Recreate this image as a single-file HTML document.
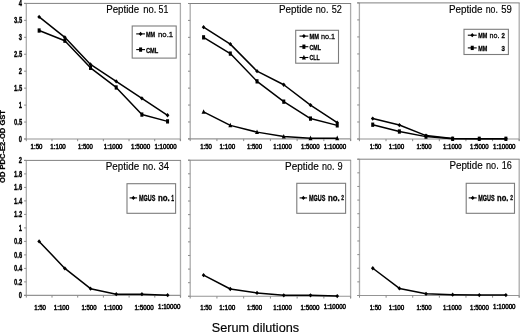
<!DOCTYPE html>
<html><head><meta charset="utf-8"><title>Chart</title>
<style>
html,body{margin:0;padding:0;background:#fff;}
body{width:520px;height:333px;overflow:hidden;}
svg{display:block;}
text{font-family:"Liberation Sans",sans-serif;fill:#000;}
.yl{font-size:8.4px;font-weight:bold;stroke:#000;stroke-width:0.35px;}
.xl{font-size:7.3px;stroke:#000;stroke-width:0.5px;}
.tt{font-size:10.2px;stroke:#000;stroke-width:0.15px;}
.st{font-size:12.4px;stroke:#000;stroke-width:0.15px;}
.yt{font-size:7px;font-weight:bold;stroke:#000;stroke-width:0.25px;}
.lb{font-size:8px;font-weight:bold;stroke:#000;stroke-width:0.3px;}
.lr{font-size:8px;stroke:#000;stroke-width:0.26px;}
.lm{font-size:8.6px;font-weight:bold;stroke:#000;stroke-width:0.3px;}
.ls{font-size:6.8px;font-weight:bold;stroke:#000;stroke-width:0.3px;}
</style></head><body>
<svg width="520" height="333" viewBox="0 0 520 333">
<g style="mix-blend-mode:multiply">
<rect width="520" height="333" fill="#fff"/>
<path d="M26.3 139.0V3.4M180.4 3.4V141.0" fill="none" stroke="#acacac" stroke-width="1.3"/>
<path d="M24.1 139.0H180.4" fill="none" stroke="#949494" stroke-width="1.1"/>
<path d="M24.1 3.4H180.9" fill="none" stroke="#808080" stroke-width="1"/>
<line x1="24.1" y1="139.00" x2="26.3" y2="139.00" stroke="#8a8a8a" stroke-width="1"/>
<text x="22.1" y="142.00" class="yl" text-anchor="end" transform="translate(6.85 0) scale(0.69 1)">0</text>
<line x1="24.1" y1="122.05" x2="26.3" y2="122.05" stroke="#8a8a8a" stroke-width="1"/>
<text x="22.1" y="125.05" class="yl" text-anchor="end" transform="translate(6.85 0) scale(0.69 1)">0.5</text>
<line x1="24.1" y1="105.10" x2="26.3" y2="105.10" stroke="#8a8a8a" stroke-width="1"/>
<text x="22.1" y="108.10" class="yl" text-anchor="end" transform="translate(6.85 0) scale(0.69 1)">1</text>
<line x1="24.1" y1="88.15" x2="26.3" y2="88.15" stroke="#8a8a8a" stroke-width="1"/>
<text x="22.1" y="91.15" class="yl" text-anchor="end" transform="translate(6.85 0) scale(0.69 1)">1.5</text>
<line x1="24.1" y1="71.20" x2="26.3" y2="71.20" stroke="#8a8a8a" stroke-width="1"/>
<text x="22.1" y="74.20" class="yl" text-anchor="end" transform="translate(6.85 0) scale(0.69 1)">2</text>
<line x1="24.1" y1="54.25" x2="26.3" y2="54.25" stroke="#8a8a8a" stroke-width="1"/>
<text x="22.1" y="57.25" class="yl" text-anchor="end" transform="translate(6.85 0) scale(0.69 1)">2.5</text>
<line x1="24.1" y1="37.30" x2="26.3" y2="37.30" stroke="#8a8a8a" stroke-width="1"/>
<text x="22.1" y="40.30" class="yl" text-anchor="end" transform="translate(6.85 0) scale(0.69 1)">3</text>
<line x1="24.1" y1="20.35" x2="26.3" y2="20.35" stroke="#8a8a8a" stroke-width="1"/>
<text x="22.1" y="23.35" class="yl" text-anchor="end" transform="translate(6.85 0) scale(0.69 1)">3.5</text>
<line x1="24.1" y1="3.40" x2="26.3" y2="3.40" stroke="#8a8a8a" stroke-width="1"/>
<text x="22.1" y="5.50" class="yl" text-anchor="end" transform="translate(6.85 0) scale(0.69 1)">4</text>
<line x1="26.30" y1="139.0" x2="26.30" y2="141.2" stroke="#8a8a8a" stroke-width="1"/>
<line x1="51.98" y1="139.0" x2="51.98" y2="141.2" stroke="#8a8a8a" stroke-width="1"/>
<line x1="77.67" y1="139.0" x2="77.67" y2="141.2" stroke="#8a8a8a" stroke-width="1"/>
<line x1="103.35" y1="139.0" x2="103.35" y2="141.2" stroke="#8a8a8a" stroke-width="1"/>
<line x1="129.03" y1="139.0" x2="129.03" y2="141.2" stroke="#8a8a8a" stroke-width="1"/>
<line x1="154.72" y1="139.0" x2="154.72" y2="141.2" stroke="#8a8a8a" stroke-width="1"/>
<line x1="180.40" y1="139.0" x2="180.40" y2="141.2" stroke="#8a8a8a" stroke-width="1"/>
<text x="30.6" y="148.5" class="xl" textLength="11.8" lengthAdjust="spacingAndGlyphs">1:50</text>
<text x="50.3" y="148.5" class="xl" textLength="15.5" lengthAdjust="spacingAndGlyphs">1:100</text>
<text x="78.0" y="148.5" class="xl" textLength="14.7" lengthAdjust="spacingAndGlyphs">1:500</text>
<text x="103.8" y="148.5" class="xl" textLength="18.7" lengthAdjust="spacingAndGlyphs">1:1000</text>
<text x="131.1" y="148.5" class="xl" textLength="19.1" lengthAdjust="spacingAndGlyphs">1:5000</text>
<text x="154.5" y="148.5" class="xl" textLength="22.1" lengthAdjust="spacingAndGlyphs">1:10000</text>
<polyline points="39.14,16.96 64.83,37.30 90.51,64.42 116.19,81.37 141.88,98.32 167.56,115.27" fill="none" stroke="#000" stroke-width="1.5" stroke-linejoin="round"/>
<path d="M37.29 16.96L39.14 14.81L40.99 16.96L39.14 19.11Z" fill="#000"/>
<path d="M62.98 37.30L64.83 35.15L66.67 37.30L64.83 39.45Z" fill="#000"/>
<path d="M88.66 64.42L90.51 62.27L92.36 64.42L90.51 66.57Z" fill="#000"/>
<path d="M114.34 81.37L116.19 79.22L118.04 81.37L116.19 83.52Z" fill="#000"/>
<path d="M140.03 98.32L141.88 96.17L143.72 98.32L141.88 100.47Z" fill="#000"/>
<path d="M165.71 115.27L167.56 113.12L169.41 115.27L167.56 117.42Z" fill="#000"/>
<polyline points="39.14,30.52 64.83,40.69 90.51,67.81 116.19,87.47 141.88,114.59 167.56,121.37" fill="none" stroke="#000" stroke-width="1.5" stroke-linejoin="round"/>
<rect x="37.64" y="28.37" width="3.00" height="4.30" fill="#000"/>
<rect x="63.33" y="38.54" width="3.00" height="4.30" fill="#000"/>
<rect x="89.01" y="65.66" width="3.00" height="4.30" fill="#000"/>
<rect x="114.69" y="85.32" width="3.00" height="4.30" fill="#000"/>
<rect x="140.38" y="112.44" width="3.00" height="4.30" fill="#000"/>
<rect x="166.06" y="119.22" width="3.00" height="4.30" fill="#000"/>
<text x="106.2" y="13.0" class="tt" textLength="33.0" lengthAdjust="spacingAndGlyphs">Peptide</text>
<text x="143.3" y="13.0" class="tt" textLength="13.1" lengthAdjust="spacingAndGlyphs">no.</text>
<text x="158.5" y="13.0" class="tt" textLength="9.8" lengthAdjust="spacingAndGlyphs">51</text>
<path d="M190.2 138.9V3.5M350.6 3.5V140.9" fill="none" stroke="#acacac" stroke-width="1.3"/>
<path d="M188.0 138.9H350.6" fill="none" stroke="#949494" stroke-width="1.1"/>
<path d="M188.0 3.5H351.1" fill="none" stroke="#808080" stroke-width="1"/>
<line x1="188.0" y1="138.90" x2="190.2" y2="138.90" stroke="#8a8a8a" stroke-width="1"/>
<line x1="188.0" y1="121.98" x2="190.2" y2="121.98" stroke="#8a8a8a" stroke-width="1"/>
<line x1="188.0" y1="105.05" x2="190.2" y2="105.05" stroke="#8a8a8a" stroke-width="1"/>
<line x1="188.0" y1="88.12" x2="190.2" y2="88.12" stroke="#8a8a8a" stroke-width="1"/>
<line x1="188.0" y1="71.20" x2="190.2" y2="71.20" stroke="#8a8a8a" stroke-width="1"/>
<line x1="188.0" y1="54.28" x2="190.2" y2="54.28" stroke="#8a8a8a" stroke-width="1"/>
<line x1="188.0" y1="37.35" x2="190.2" y2="37.35" stroke="#8a8a8a" stroke-width="1"/>
<line x1="188.0" y1="20.42" x2="190.2" y2="20.42" stroke="#8a8a8a" stroke-width="1"/>
<line x1="188.0" y1="3.50" x2="190.2" y2="3.50" stroke="#8a8a8a" stroke-width="1"/>
<line x1="190.20" y1="138.9" x2="190.20" y2="141.1" stroke="#8a8a8a" stroke-width="1"/>
<line x1="216.93" y1="138.9" x2="216.93" y2="141.1" stroke="#8a8a8a" stroke-width="1"/>
<line x1="243.67" y1="138.9" x2="243.67" y2="141.1" stroke="#8a8a8a" stroke-width="1"/>
<line x1="270.40" y1="138.9" x2="270.40" y2="141.1" stroke="#8a8a8a" stroke-width="1"/>
<line x1="297.13" y1="138.9" x2="297.13" y2="141.1" stroke="#8a8a8a" stroke-width="1"/>
<line x1="323.87" y1="138.9" x2="323.87" y2="141.1" stroke="#8a8a8a" stroke-width="1"/>
<line x1="350.60" y1="138.9" x2="350.60" y2="141.1" stroke="#8a8a8a" stroke-width="1"/>
<text x="200.2" y="148.5" class="xl" textLength="11.6" lengthAdjust="spacingAndGlyphs">1:50</text>
<text x="219.6" y="148.5" class="xl" textLength="15.6" lengthAdjust="spacingAndGlyphs">1:100</text>
<text x="246.9" y="148.5" class="xl" textLength="15.1" lengthAdjust="spacingAndGlyphs">1:500</text>
<text x="273.3" y="148.5" class="xl" textLength="18.5" lengthAdjust="spacingAndGlyphs">1:1000</text>
<text x="301.0" y="148.5" class="xl" textLength="18.5" lengthAdjust="spacingAndGlyphs">1:5000</text>
<text x="323.8" y="148.5" class="xl" textLength="22.5" lengthAdjust="spacingAndGlyphs">1:10000</text>
<polyline points="203.57,27.20 230.30,44.12 257.03,71.20 283.77,84.74 310.50,105.05 337.23,122.65" fill="none" stroke="#000" stroke-width="1.5" stroke-linejoin="round"/>
<path d="M201.72 27.20L203.57 25.05L205.42 27.20L203.57 29.35Z" fill="#000"/>
<path d="M228.45 44.12L230.30 41.97L232.15 44.12L230.30 46.27Z" fill="#000"/>
<path d="M255.18 71.20L257.03 69.05L258.88 71.20L257.03 73.35Z" fill="#000"/>
<path d="M281.92 84.74L283.77 82.59L285.62 84.74L283.77 86.89Z" fill="#000"/>
<path d="M308.65 105.05L310.50 102.90L312.35 105.05L310.50 107.20Z" fill="#000"/>
<path d="M335.38 122.65L337.23 120.50L339.08 122.65L337.23 124.80Z" fill="#000"/>
<polyline points="203.57,37.35 230.30,53.60 257.03,81.36 283.77,101.66 310.50,118.59 337.23,125.36" fill="none" stroke="#000" stroke-width="1.5" stroke-linejoin="round"/>
<rect x="202.07" y="35.20" width="3.00" height="4.30" fill="#000"/>
<rect x="228.80" y="51.45" width="3.00" height="4.30" fill="#000"/>
<rect x="255.53" y="79.20" width="3.00" height="4.30" fill="#000"/>
<rect x="282.27" y="99.51" width="3.00" height="4.30" fill="#000"/>
<rect x="309.00" y="116.44" width="3.00" height="4.30" fill="#000"/>
<rect x="335.73" y="123.21" width="3.00" height="4.30" fill="#000"/>
<polyline points="203.57,111.82 230.30,125.36 257.03,132.13 283.77,136.53 310.50,138.22 337.23,138.22" fill="none" stroke="#000" stroke-width="1.5" stroke-linejoin="round"/>
<path d="M201.57 113.78L203.57 109.18L205.57 113.78Z" fill="#000"/>
<path d="M228.30 127.31L230.30 122.72L232.30 127.31Z" fill="#000"/>
<path d="M255.03 134.09L257.03 129.48L259.03 134.09Z" fill="#000"/>
<path d="M281.77 138.49L283.77 133.89L285.77 138.49Z" fill="#000"/>
<path d="M308.50 140.18L310.50 135.58L312.50 140.18Z" fill="#000"/>
<path d="M335.23 140.18L337.23 135.58L339.23 140.18Z" fill="#000"/>
<text x="279.0" y="13.0" class="tt" textLength="33.5" lengthAdjust="spacingAndGlyphs">Peptide</text>
<text x="315.8" y="13.0" class="tt" textLength="12.7" lengthAdjust="spacingAndGlyphs">no.</text>
<text x="331.8" y="13.0" class="tt" textLength="10.1" lengthAdjust="spacingAndGlyphs">52</text>
<path d="M359.4 139.0V2.9M519.2 2.9V141.0" fill="none" stroke="#acacac" stroke-width="1.3"/>
<path d="M357.2 139.0H519.2" fill="none" stroke="#949494" stroke-width="1.1"/>
<path d="M357.2 2.9H519.7" fill="none" stroke="#808080" stroke-width="1"/>
<line x1="357.2" y1="139.00" x2="359.4" y2="139.00" stroke="#8a8a8a" stroke-width="1"/>
<line x1="357.2" y1="121.99" x2="359.4" y2="121.99" stroke="#8a8a8a" stroke-width="1"/>
<line x1="357.2" y1="104.97" x2="359.4" y2="104.97" stroke="#8a8a8a" stroke-width="1"/>
<line x1="357.2" y1="87.96" x2="359.4" y2="87.96" stroke="#8a8a8a" stroke-width="1"/>
<line x1="357.2" y1="70.95" x2="359.4" y2="70.95" stroke="#8a8a8a" stroke-width="1"/>
<line x1="357.2" y1="53.94" x2="359.4" y2="53.94" stroke="#8a8a8a" stroke-width="1"/>
<line x1="357.2" y1="36.93" x2="359.4" y2="36.93" stroke="#8a8a8a" stroke-width="1"/>
<line x1="357.2" y1="19.91" x2="359.4" y2="19.91" stroke="#8a8a8a" stroke-width="1"/>
<line x1="357.2" y1="2.90" x2="359.4" y2="2.90" stroke="#8a8a8a" stroke-width="1"/>
<line x1="359.40" y1="139.0" x2="359.40" y2="141.2" stroke="#8a8a8a" stroke-width="1"/>
<line x1="386.03" y1="139.0" x2="386.03" y2="141.2" stroke="#8a8a8a" stroke-width="1"/>
<line x1="412.67" y1="139.0" x2="412.67" y2="141.2" stroke="#8a8a8a" stroke-width="1"/>
<line x1="439.30" y1="139.0" x2="439.30" y2="141.2" stroke="#8a8a8a" stroke-width="1"/>
<line x1="465.93" y1="139.0" x2="465.93" y2="141.2" stroke="#8a8a8a" stroke-width="1"/>
<line x1="492.57" y1="139.0" x2="492.57" y2="141.2" stroke="#8a8a8a" stroke-width="1"/>
<line x1="519.20" y1="139.0" x2="519.20" y2="141.2" stroke="#8a8a8a" stroke-width="1"/>
<text x="369.7" y="148.5" class="xl" textLength="11.6" lengthAdjust="spacingAndGlyphs">1:50</text>
<text x="388.7" y="148.5" class="xl" textLength="15.6" lengthAdjust="spacingAndGlyphs">1:100</text>
<text x="416.4" y="148.5" class="xl" textLength="15.1" lengthAdjust="spacingAndGlyphs">1:500</text>
<text x="443.0" y="148.5" class="xl" textLength="18.5" lengthAdjust="spacingAndGlyphs">1:1000</text>
<text x="470.1" y="148.5" class="xl" textLength="18.4" lengthAdjust="spacingAndGlyphs">1:5000</text>
<text x="493.1" y="148.5" class="xl" textLength="22.5" lengthAdjust="spacingAndGlyphs">1:10000</text>
<polyline points="372.72,118.59 399.35,125.05 425.98,135.60 452.62,138.59 479.25,138.80 505.88,138.80" fill="none" stroke="#000" stroke-width="1.5" stroke-linejoin="round"/>
<path d="M370.87 118.59L372.72 116.44L374.57 118.59L372.72 120.74Z" fill="#000"/>
<path d="M397.50 125.05L399.35 122.90L401.20 125.05L399.35 127.20Z" fill="#000"/>
<path d="M424.13 135.60L425.98 133.45L427.83 135.60L425.98 137.75Z" fill="#000"/>
<path d="M450.77 138.59L452.62 136.44L454.47 138.59L452.62 140.74Z" fill="#000"/>
<path d="M477.40 138.80L479.25 136.65L481.10 138.80L479.25 140.95Z" fill="#000"/>
<path d="M504.03 138.80L505.88 136.65L507.73 138.80L505.88 140.95Z" fill="#000"/>
<polyline points="372.72,124.71 399.35,131.51 425.98,136.62 452.62,138.80 479.25,138.80 505.88,138.80" fill="none" stroke="#000" stroke-width="1.5" stroke-linejoin="round"/>
<rect x="371.22" y="122.56" width="3.00" height="4.30" fill="#000"/>
<rect x="397.85" y="129.36" width="3.00" height="4.30" fill="#000"/>
<rect x="424.48" y="134.47" width="3.00" height="4.30" fill="#000"/>
<rect x="451.12" y="136.65" width="3.00" height="4.30" fill="#000"/>
<rect x="477.75" y="136.65" width="3.00" height="4.30" fill="#000"/>
<rect x="504.38" y="136.65" width="3.00" height="4.30" fill="#000"/>
<text x="448.9" y="12.8" class="tt" textLength="33.5" lengthAdjust="spacingAndGlyphs">Peptide</text>
<text x="485.7" y="12.8" class="tt" textLength="12.2" lengthAdjust="spacingAndGlyphs">no.</text>
<text x="501.2" y="12.8" class="tt" textLength="10.6" lengthAdjust="spacingAndGlyphs">59</text>
<path d="M26.3 295.4V160.4M180.5 160.4V297.4" fill="none" stroke="#acacac" stroke-width="1.3"/>
<path d="M24.1 295.4H180.5" fill="none" stroke="#949494" stroke-width="1.1"/>
<path d="M24.1 160.4H181.0" fill="none" stroke="#808080" stroke-width="1"/>
<line x1="24.1" y1="295.40" x2="26.3" y2="295.40" stroke="#8a8a8a" stroke-width="1"/>
<text x="22.1" y="298.40" class="yl" text-anchor="end" transform="translate(6.85 0) scale(0.69 1)">0</text>
<line x1="24.1" y1="281.90" x2="26.3" y2="281.90" stroke="#8a8a8a" stroke-width="1"/>
<text x="22.1" y="284.90" class="yl" text-anchor="end" transform="translate(6.85 0) scale(0.69 1)">0.2</text>
<line x1="24.1" y1="268.40" x2="26.3" y2="268.40" stroke="#8a8a8a" stroke-width="1"/>
<text x="22.1" y="271.40" class="yl" text-anchor="end" transform="translate(6.85 0) scale(0.69 1)">0.4</text>
<line x1="24.1" y1="254.90" x2="26.3" y2="254.90" stroke="#8a8a8a" stroke-width="1"/>
<text x="22.1" y="257.90" class="yl" text-anchor="end" transform="translate(6.85 0) scale(0.69 1)">0.6</text>
<line x1="24.1" y1="241.40" x2="26.3" y2="241.40" stroke="#8a8a8a" stroke-width="1"/>
<text x="22.1" y="244.40" class="yl" text-anchor="end" transform="translate(6.85 0) scale(0.69 1)">0.8</text>
<line x1="24.1" y1="227.90" x2="26.3" y2="227.90" stroke="#8a8a8a" stroke-width="1"/>
<text x="22.1" y="230.90" class="yl" text-anchor="end" transform="translate(6.85 0) scale(0.69 1)">1</text>
<line x1="24.1" y1="214.40" x2="26.3" y2="214.40" stroke="#8a8a8a" stroke-width="1"/>
<text x="22.1" y="217.40" class="yl" text-anchor="end" transform="translate(6.85 0) scale(0.69 1)">1.2</text>
<line x1="24.1" y1="200.90" x2="26.3" y2="200.90" stroke="#8a8a8a" stroke-width="1"/>
<text x="22.1" y="203.90" class="yl" text-anchor="end" transform="translate(6.85 0) scale(0.69 1)">1.4</text>
<line x1="24.1" y1="187.40" x2="26.3" y2="187.40" stroke="#8a8a8a" stroke-width="1"/>
<text x="22.1" y="190.40" class="yl" text-anchor="end" transform="translate(6.85 0) scale(0.69 1)">1.6</text>
<line x1="24.1" y1="173.90" x2="26.3" y2="173.90" stroke="#8a8a8a" stroke-width="1"/>
<text x="22.1" y="176.90" class="yl" text-anchor="end" transform="translate(6.85 0) scale(0.69 1)">1.8</text>
<line x1="24.1" y1="160.40" x2="26.3" y2="160.40" stroke="#8a8a8a" stroke-width="1"/>
<text x="22.1" y="163.40" class="yl" text-anchor="end" transform="translate(6.85 0) scale(0.69 1)">2</text>
<line x1="26.30" y1="295.4" x2="26.30" y2="297.59999999999997" stroke="#8a8a8a" stroke-width="1"/>
<line x1="52.00" y1="295.4" x2="52.00" y2="297.59999999999997" stroke="#8a8a8a" stroke-width="1"/>
<line x1="77.70" y1="295.4" x2="77.70" y2="297.59999999999997" stroke="#8a8a8a" stroke-width="1"/>
<line x1="103.40" y1="295.4" x2="103.40" y2="297.59999999999997" stroke="#8a8a8a" stroke-width="1"/>
<line x1="129.10" y1="295.4" x2="129.10" y2="297.59999999999997" stroke="#8a8a8a" stroke-width="1"/>
<line x1="154.80" y1="295.4" x2="154.80" y2="297.59999999999997" stroke="#8a8a8a" stroke-width="1"/>
<line x1="180.50" y1="295.4" x2="180.50" y2="297.59999999999997" stroke="#8a8a8a" stroke-width="1"/>
<text x="34.2" y="310.1" class="xl" textLength="11.8" lengthAdjust="spacingAndGlyphs">1:50</text>
<text x="53.7" y="310.1" class="xl" textLength="15.6" lengthAdjust="spacingAndGlyphs">1:100</text>
<text x="81.4" y="310.1" class="xl" textLength="15.1" lengthAdjust="spacingAndGlyphs">1:500</text>
<text x="103.8" y="310.1" class="xl" textLength="18.7" lengthAdjust="spacingAndGlyphs">1:1000</text>
<text x="134.6" y="310.1" class="xl" textLength="19.0" lengthAdjust="spacingAndGlyphs">1:5000</text>
<text x="158.0" y="309.4" class="xl" textLength="22.4" lengthAdjust="spacingAndGlyphs">1:10000</text>
<polyline points="39.15,241.40 64.85,268.40 90.55,288.65 116.25,294.19 141.95,294.19 167.65,295.20" fill="none" stroke="#000" stroke-width="1.5" stroke-linejoin="round"/>
<path d="M37.30 241.40L39.15 239.25L41.00 241.40L39.15 243.55Z" fill="#000"/>
<path d="M63.00 268.40L64.85 266.25L66.70 268.40L64.85 270.55Z" fill="#000"/>
<path d="M88.70 288.65L90.55 286.50L92.40 288.65L90.55 290.80Z" fill="#000"/>
<path d="M114.40 294.19L116.25 292.04L118.10 294.19L116.25 296.33Z" fill="#000"/>
<path d="M140.10 294.19L141.95 292.04L143.80 294.19L141.95 296.33Z" fill="#000"/>
<path d="M165.80 295.20L167.65 293.05L169.50 295.20L167.65 297.35Z" fill="#000"/>
<text x="105.8" y="169.9" class="tt" textLength="33.4" lengthAdjust="spacingAndGlyphs">Peptide</text>
<text x="142.8" y="169.9" class="tt" textLength="13.1" lengthAdjust="spacingAndGlyphs">no.</text>
<text x="158.5" y="169.9" class="tt" textLength="10.5" lengthAdjust="spacingAndGlyphs">34</text>
<path d="M190.2 296.3V160.2M350.6 160.2V298.3" fill="none" stroke="#acacac" stroke-width="1.3"/>
<path d="M188.0 296.3H350.6" fill="none" stroke="#949494" stroke-width="1.1"/>
<path d="M188.0 160.2H351.1" fill="none" stroke="#808080" stroke-width="1"/>
<line x1="188.0" y1="296.30" x2="190.2" y2="296.30" stroke="#8a8a8a" stroke-width="1"/>
<line x1="188.0" y1="282.69" x2="190.2" y2="282.69" stroke="#8a8a8a" stroke-width="1"/>
<line x1="188.0" y1="269.08" x2="190.2" y2="269.08" stroke="#8a8a8a" stroke-width="1"/>
<line x1="188.0" y1="255.47" x2="190.2" y2="255.47" stroke="#8a8a8a" stroke-width="1"/>
<line x1="188.0" y1="241.86" x2="190.2" y2="241.86" stroke="#8a8a8a" stroke-width="1"/>
<line x1="188.0" y1="228.25" x2="190.2" y2="228.25" stroke="#8a8a8a" stroke-width="1"/>
<line x1="188.0" y1="214.64" x2="190.2" y2="214.64" stroke="#8a8a8a" stroke-width="1"/>
<line x1="188.0" y1="201.03" x2="190.2" y2="201.03" stroke="#8a8a8a" stroke-width="1"/>
<line x1="188.0" y1="187.42" x2="190.2" y2="187.42" stroke="#8a8a8a" stroke-width="1"/>
<line x1="188.0" y1="173.81" x2="190.2" y2="173.81" stroke="#8a8a8a" stroke-width="1"/>
<line x1="188.0" y1="160.20" x2="190.2" y2="160.20" stroke="#8a8a8a" stroke-width="1"/>
<line x1="190.20" y1="296.3" x2="190.20" y2="298.5" stroke="#8a8a8a" stroke-width="1"/>
<line x1="216.93" y1="296.3" x2="216.93" y2="298.5" stroke="#8a8a8a" stroke-width="1"/>
<line x1="243.67" y1="296.3" x2="243.67" y2="298.5" stroke="#8a8a8a" stroke-width="1"/>
<line x1="270.40" y1="296.3" x2="270.40" y2="298.5" stroke="#8a8a8a" stroke-width="1"/>
<line x1="297.13" y1="296.3" x2="297.13" y2="298.5" stroke="#8a8a8a" stroke-width="1"/>
<line x1="323.87" y1="296.3" x2="323.87" y2="298.5" stroke="#8a8a8a" stroke-width="1"/>
<line x1="350.60" y1="296.3" x2="350.60" y2="298.5" stroke="#8a8a8a" stroke-width="1"/>
<text x="200.2" y="310.1" class="xl" textLength="11.6" lengthAdjust="spacingAndGlyphs">1:50</text>
<text x="219.3" y="310.1" class="xl" textLength="15.9" lengthAdjust="spacingAndGlyphs">1:100</text>
<text x="246.9" y="310.1" class="xl" textLength="15.1" lengthAdjust="spacingAndGlyphs">1:500</text>
<text x="273.3" y="310.1" class="xl" textLength="18.5" lengthAdjust="spacingAndGlyphs">1:1000</text>
<text x="300.5" y="310.1" class="xl" textLength="19.0" lengthAdjust="spacingAndGlyphs">1:5000</text>
<text x="323.8" y="309.4" class="xl" textLength="22.2" lengthAdjust="spacingAndGlyphs">1:10000</text>
<polyline points="203.57,275.20 230.30,289.02 257.03,292.90 283.77,295.28 310.50,295.28 337.23,296.03" fill="none" stroke="#000" stroke-width="1.5" stroke-linejoin="round"/>
<path d="M201.72 275.20L203.57 273.05L205.42 275.20L203.57 277.35Z" fill="#000"/>
<path d="M228.45 289.02L230.30 286.87L232.15 289.02L230.30 291.17Z" fill="#000"/>
<path d="M255.18 292.90L257.03 290.75L258.88 292.90L257.03 295.05Z" fill="#000"/>
<path d="M281.92 295.28L283.77 293.13L285.62 295.28L283.77 297.43Z" fill="#000"/>
<path d="M308.65 295.28L310.50 293.13L312.35 295.28L310.50 297.43Z" fill="#000"/>
<path d="M335.38 296.03L337.23 293.88L339.08 296.03L337.23 298.18Z" fill="#000"/>
<text x="285.0" y="169.9" class="tt" textLength="33.7" lengthAdjust="spacingAndGlyphs">Peptide</text>
<text x="322.0" y="169.9" class="tt" textLength="12.5" lengthAdjust="spacingAndGlyphs">no.</text>
<text x="337.6" y="169.9" class="tt" textLength="5.1" lengthAdjust="spacingAndGlyphs">9</text>
<path d="M359.5 295.5V159.2M519.2 159.2V297.5" fill="none" stroke="#acacac" stroke-width="1.3"/>
<path d="M357.3 295.5H519.2" fill="none" stroke="#949494" stroke-width="1.1"/>
<path d="M357.3 159.2H519.7" fill="none" stroke="#808080" stroke-width="1"/>
<line x1="357.3" y1="295.50" x2="359.5" y2="295.50" stroke="#8a8a8a" stroke-width="1"/>
<line x1="357.3" y1="281.87" x2="359.5" y2="281.87" stroke="#8a8a8a" stroke-width="1"/>
<line x1="357.3" y1="268.24" x2="359.5" y2="268.24" stroke="#8a8a8a" stroke-width="1"/>
<line x1="357.3" y1="254.61" x2="359.5" y2="254.61" stroke="#8a8a8a" stroke-width="1"/>
<line x1="357.3" y1="240.98" x2="359.5" y2="240.98" stroke="#8a8a8a" stroke-width="1"/>
<line x1="357.3" y1="227.35" x2="359.5" y2="227.35" stroke="#8a8a8a" stroke-width="1"/>
<line x1="357.3" y1="213.72" x2="359.5" y2="213.72" stroke="#8a8a8a" stroke-width="1"/>
<line x1="357.3" y1="200.09" x2="359.5" y2="200.09" stroke="#8a8a8a" stroke-width="1"/>
<line x1="357.3" y1="186.46" x2="359.5" y2="186.46" stroke="#8a8a8a" stroke-width="1"/>
<line x1="357.3" y1="172.83" x2="359.5" y2="172.83" stroke="#8a8a8a" stroke-width="1"/>
<line x1="357.3" y1="159.20" x2="359.5" y2="159.20" stroke="#8a8a8a" stroke-width="1"/>
<line x1="359.50" y1="295.5" x2="359.50" y2="297.7" stroke="#8a8a8a" stroke-width="1"/>
<line x1="386.12" y1="295.5" x2="386.12" y2="297.7" stroke="#8a8a8a" stroke-width="1"/>
<line x1="412.73" y1="295.5" x2="412.73" y2="297.7" stroke="#8a8a8a" stroke-width="1"/>
<line x1="439.35" y1="295.5" x2="439.35" y2="297.7" stroke="#8a8a8a" stroke-width="1"/>
<line x1="465.97" y1="295.5" x2="465.97" y2="297.7" stroke="#8a8a8a" stroke-width="1"/>
<line x1="492.58" y1="295.5" x2="492.58" y2="297.7" stroke="#8a8a8a" stroke-width="1"/>
<line x1="519.20" y1="295.5" x2="519.20" y2="297.7" stroke="#8a8a8a" stroke-width="1"/>
<text x="369.7" y="310.1" class="xl" textLength="11.6" lengthAdjust="spacingAndGlyphs">1:50</text>
<text x="388.7" y="310.1" class="xl" textLength="15.6" lengthAdjust="spacingAndGlyphs">1:100</text>
<text x="416.4" y="310.1" class="xl" textLength="15.1" lengthAdjust="spacingAndGlyphs">1:500</text>
<text x="443.0" y="310.1" class="xl" textLength="18.5" lengthAdjust="spacingAndGlyphs">1:1000</text>
<text x="470.1" y="310.1" class="xl" textLength="18.7" lengthAdjust="spacingAndGlyphs">1:5000</text>
<text x="493.1" y="309.4" class="xl" textLength="22.5" lengthAdjust="spacingAndGlyphs">1:10000</text>
<polyline points="372.81,268.24 399.43,288.41 426.04,293.80 452.66,294.68 479.28,295.09 505.89,295.09" fill="none" stroke="#000" stroke-width="1.5" stroke-linejoin="round"/>
<path d="M370.96 268.24L372.81 266.09L374.66 268.24L372.81 270.39Z" fill="#000"/>
<path d="M397.57 288.41L399.43 286.26L401.28 288.41L399.43 290.56Z" fill="#000"/>
<path d="M424.19 293.80L426.04 291.65L427.89 293.80L426.04 295.95Z" fill="#000"/>
<path d="M450.81 294.68L452.66 292.53L454.51 294.68L452.66 296.83Z" fill="#000"/>
<path d="M477.43 295.09L479.28 292.94L481.13 295.09L479.28 297.24Z" fill="#000"/>
<path d="M504.04 295.09L505.89 292.94L507.74 295.09L505.89 297.24Z" fill="#000"/>
<text x="449.4" y="168.6" class="tt" textLength="33.3" lengthAdjust="spacingAndGlyphs">Peptide</text>
<text x="486.0" y="168.6" class="tt" textLength="12.7" lengthAdjust="spacingAndGlyphs">no.</text>
<text x="501.7" y="168.6" class="tt" textLength="10.1" lengthAdjust="spacingAndGlyphs">16</text>
<rect x="132.2" y="26" width="44.00" height="32.10" fill="#fff" stroke="#7c7c7c" stroke-width="1.1"/>
<line x1="136.2" y1="33.9" x2="145" y2="33.9" stroke="#000" stroke-width="1.1"/>
<path d="M138.75 33.90L140.60 31.75L142.45 33.90L140.60 36.05Z" fill="#000"/>
<text x="146" y="36.80" class="lb" textLength="9.1" lengthAdjust="spacingAndGlyphs">MM</text>
<text x="158" y="36.80" class="lr" textLength="15.1" lengthAdjust="spacingAndGlyphs">no.1</text>
<line x1="136.2" y1="49.6" x2="145" y2="49.6" stroke="#000" stroke-width="1.1"/>
<rect x="139.10" y="47.45" width="3.00" height="4.30" fill="#000"/>
<text x="146" y="52.50" class="lb" textLength="12.3" lengthAdjust="spacingAndGlyphs">CML</text>
<rect x="295.7" y="30.3" width="42.80" height="32.90" fill="#fff" stroke="#7c7c7c" stroke-width="1.1"/>
<line x1="299.5" y1="36.1" x2="308.3" y2="36.1" stroke="#000" stroke-width="1.1"/>
<path d="M302.05 36.10L303.90 33.95L305.75 36.10L303.90 38.25Z" fill="#000"/>
<text x="309.5" y="38.90" class="lb" textLength="9.5" lengthAdjust="spacingAndGlyphs">MM</text>
<text x="320.9" y="38.90" class="lr" textLength="14.2" lengthAdjust="spacingAndGlyphs">no.1</text>
<line x1="299.5" y1="46.7" x2="308.3" y2="46.7" stroke="#000" stroke-width="1.1"/>
<rect x="302.40" y="44.55" width="3.00" height="4.30" fill="#000"/>
<text x="309.5" y="49.60" class="lb" textLength="11.4" lengthAdjust="spacingAndGlyphs">CML</text>
<line x1="299.5" y1="57.5" x2="308.3" y2="57.5" stroke="#000" stroke-width="1.1"/>
<path d="M301.90 59.45L303.90 54.86L305.90 59.45Z" fill="#000"/>
<text x="309.5" y="60.40" class="lb" textLength="10.1" lengthAdjust="spacingAndGlyphs">CLL</text>
<rect x="464" y="29.3" width="44.40" height="25.20" fill="#fff" stroke="#7c7c7c" stroke-width="1.1"/>
<line x1="467.8" y1="35.2" x2="476.7" y2="35.2" stroke="#000" stroke-width="1.1"/>
<path d="M470.40 35.20L472.25 33.05L474.10 35.20L472.25 37.35Z" fill="#000"/>
<text x="478.2" y="38.10" class="lb" textLength="9.1" lengthAdjust="spacingAndGlyphs">MM</text>
<text x="489.5" y="38.10" class="lr" textLength="9.9" lengthAdjust="spacingAndGlyphs">no.</text>
<text x="501.5" y="38.10" class="lb" textLength="3.4" lengthAdjust="spacingAndGlyphs">2</text>
<line x1="467.8" y1="47.9" x2="476.7" y2="47.9" stroke="#000" stroke-width="1.1"/>
<rect x="470.75" y="45.75" width="3.00" height="4.30" fill="#000"/>
<text x="478.2" y="50.80" class="lb" textLength="9.1" lengthAdjust="spacingAndGlyphs">MM</text>
<text x="501.5" y="50.80" class="lb" textLength="3.4" lengthAdjust="spacingAndGlyphs">3</text>
<rect x="127" y="183.7" width="48.60" height="29.60" fill="#fff" stroke="#7c7c7c" stroke-width="1.1"/>
<line x1="129.6" y1="197.9" x2="137.1" y2="197.9" stroke="#000" stroke-width="1.1"/>
<path d="M131.50 197.90L133.35 195.75L135.20 197.90L133.35 200.05Z" fill="#000"/>
<text x="139" y="201.00" class="lm" textLength="16.4" lengthAdjust="spacingAndGlyphs">MGUS</text>
<text x="157.9" y="201.00" class="lm" textLength="11.8" lengthAdjust="spacingAndGlyphs">no.</text>
<text x="171.2" y="201.00" class="lm" textLength="2.8" lengthAdjust="spacingAndGlyphs">1</text>
<rect x="296.8" y="183.3" width="48.80" height="30.00" fill="#fff" stroke="#7c7c7c" stroke-width="1.1"/>
<line x1="299.6" y1="197.9" x2="307.1" y2="197.9" stroke="#000" stroke-width="1.1"/>
<path d="M301.50 197.90L303.35 195.75L305.20 197.90L303.35 200.05Z" fill="#000"/>
<text x="309" y="201.00" class="lm" textLength="16.4" lengthAdjust="spacingAndGlyphs">MGUS</text>
<text x="327.9" y="201.00" class="lm" textLength="11.8" lengthAdjust="spacingAndGlyphs">no.</text>
<text x="341.2" y="200.20" class="ls" textLength="2.7" lengthAdjust="spacingAndGlyphs">2</text>
<rect x="466.2" y="183.3" width="48.30" height="30.00" fill="#fff" stroke="#7c7c7c" stroke-width="1.1"/>
<line x1="468.7" y1="197.9" x2="476.7" y2="197.9" stroke="#000" stroke-width="1.1"/>
<path d="M470.85 197.90L472.70 195.75L474.55 197.90L472.70 200.05Z" fill="#000"/>
<text x="478.2" y="201.00" class="lm" textLength="16.4" lengthAdjust="spacingAndGlyphs">MGUS</text>
<text x="497.1" y="201.00" class="lm" textLength="11.3" lengthAdjust="spacingAndGlyphs">no.</text>
<text x="510.3" y="200.20" class="ls" textLength="2.7" lengthAdjust="spacingAndGlyphs">2</text>
<text x="211.8" y="331.9" class="st" textLength="87.3" lengthAdjust="spacingAndGlyphs">Serum dilutions</text>
<text transform="translate(5.1 183) rotate(-90)" class="yt" textLength="73" lengthAdjust="spacingAndGlyphs">OD PDC-E2-OD GST</text>
</g></svg>
</body></html>
